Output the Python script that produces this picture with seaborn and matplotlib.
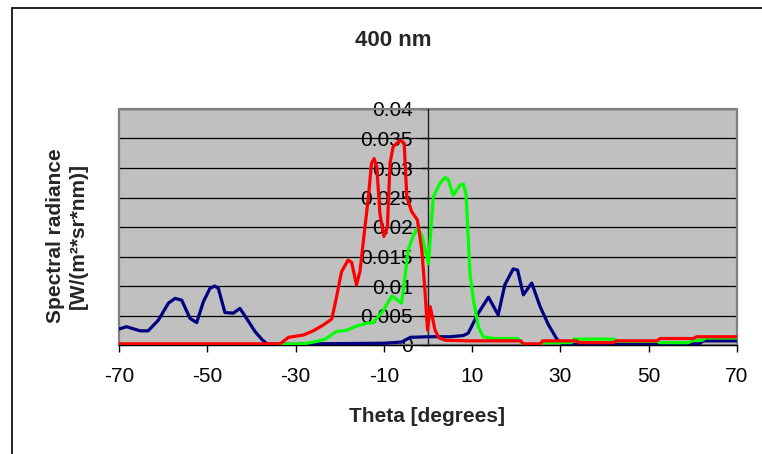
import numpy as np
import pandas as pd
import matplotlib
matplotlib.use("Agg")
import matplotlib.pyplot as plt
from matplotlib.patches import Rectangle
from matplotlib.lines import Line2D
import seaborn as sns

# ---------------- data ----------------
blue_x = [-70, -68.3, -65.2, -63.4, -61.1, -58.8, -57.3, -55.8, -53.9, -52.4, -50.9,
          -49.4, -48.3, -47.5, -46, -44.1, -42.6, -41.1, -39.2, -37.7, -36.5, -30,
          -26, -10, -6, -4, 0, 5, 8, 9.1, 11.4, 13.7, 15.9, 17.4, 19.3, 20.3, 21.6,
          23.5, 25.4, 27.3, 29.2, 30.5, 35, 42.7, 61.5, 62.3, 70]
blue_y = [0.0027, 0.0031, 0.0024, 0.0024, 0.0042, 0.0071, 0.0079, 0.0076, 0.0045,
          0.0038, 0.0073, 0.0096, 0.0100, 0.0096, 0.0055, 0.0054, 0.0062, 0.0045,
          0.0023, 0.0010, 0.0002, 0.0001, 0.0002, 0.0003, 0.0005, 0.0013, 0.0014,
          0.0014, 0.0016, 0.0020, 0.0054, 0.0081, 0.0051, 0.0102, 0.0129, 0.0127,
          0.0085, 0.0105, 0.0065, 0.0034, 0.0010, 0.0001, 0.0001, 0.0002, 0.0002,
          0.0007, 0.0007]

green_x = [-70, -33.5, -28.2, -25.2, -23.3, -20.7, -18.4, -16.2, -13.9, -12.4, -11.3,
           -10.1, -8.2, -7.1, -6.0, -5.2, -4.5, -3.3, -2.4, -1.4, 0.1, 1.2, 2.7, 3.9,
           4.6, 5.7, 7.3, 8.0, 8.6, 9.1, 9.5, 10.3, 11.4, 12.5, 14.8, 20.3, 21.5,
           25, 26, 32.5, 33, 42, 43, 52, 52.5, 59, 60, 62, 63, 70]
green_y = [0.0001, 0.0001, 0.0002, 0.0006, 0.0010, 0.0023, 0.0025, 0.0032, 0.0037,
           0.0038, 0.0048, 0.0059, 0.0083, 0.0077, 0.0071, 0.0116, 0.0161, 0.0186,
           0.0198, 0.0186, 0.0138, 0.0251, 0.0274, 0.0284, 0.0280, 0.0254, 0.0271,
           0.0273, 0.0257, 0.0184, 0.0122, 0.0076, 0.0031, 0.0014, 0.0011, 0.0011,
           0.0001, 0.0001, 0.0004, 0.0004, 0.0010, 0.0010, 0.0006, 0.0006, 0.0004,
           0.0004, 0.0008, 0.0008, 0.0012, 0.0012]

red_x = [-70, -33.5, -31.6, -28.2, -26, -23.7, -21.8, -20.7, -19.6, -18.1, -17.3,
         -16.2, -15.4, -14.7, -13.5, -12.8, -12.2, -11.6, -10.9, -10.0, -9.2, -8.6,
         -7.9, -6.3, -5.4, -4.8, -3.7, -2.4, -1.4, -0.7, -0.1, 0.5, 1.6, 2.5, 4.0,
         9.5, 21, 21.6, 25.4, 26, 33.7, 34.2, 42, 42.7, 51.8, 52.6, 60.1, 60.9, 70]
red_y = [0.0002, 0.0002, 0.0013, 0.0017, 0.0024, 0.0034, 0.0044, 0.0082, 0.0124,
         0.0144, 0.0140, 0.0102, 0.0125, 0.0172, 0.0251, 0.0308, 0.0316, 0.0302,
         0.0223, 0.0184, 0.0200, 0.0308, 0.0336, 0.0347, 0.0342, 0.0251, 0.0226,
         0.0212, 0.0161, 0.0093, 0.0025, 0.0065, 0.0025, 0.0012, 0.0008, 0.0007,
         0.0007, 0.0002, 0.0002, 0.0007, 0.0007, 0.0004, 0.0004, 0.0007, 0.0007,
         0.0011, 0.0011, 0.0014, 0.0014]

series_names = ["blue", "green", "red"]
series_colors = {"blue": "#000080", "green": "#00FF00", "red": "#FF0000"}

x_ticks = [-70, -50, -30, -10, 10, 30, 50, 70]
y_ticks = [0, 0.005, 0.01, 0.015, 0.02, 0.025, 0.03, 0.035, 0.04]
y_tick_labels = ["0", "0.005", "0.01", "0.015", "0.02", "0.025", "0.03", "0.035", "0.04"]

title = "400 nm"
x_label = "Theta [degrees]"
y_label = "Spectral radiance\n[W/(m\u00b2*sr*nm)]"

# ---------------- plot ----------------
sns.set_style("white")
plt.rcParams["font.family"] = ["Liberation Sans", "DejaVu Sans"]

df = pd.concat([
    pd.DataFrame({"theta": blue_x, "val": blue_y, "series": "blue"}),
    pd.DataFrame({"theta": green_x, "val": green_y, "series": "green"}),
    pd.DataFrame({"theta": red_x, "val": red_y, "series": "red"}),
], ignore_index=True)

fig = plt.figure(figsize=(7.62, 4.54), dpi=100)
ax = fig.add_axes([119 / 762, 109 / 454, 618 / 762, 236 / 454])
ax.set_facecolor("#C0C0C0")

sns.lineplot(data=df, x="theta", y="val", hue="series", hue_order=series_names,
             palette=series_colors, sort=False, estimator=None, legend=False,
             linewidth=2.3, ax=ax, zorder=3)
for ln in ax.lines:
    ln.set_solid_joinstyle("round")
    ln.set_solid_capstyle("round")

ax.set_xlim(-70, 70)
ax.set_ylim(0, 0.04)
ax.set_xticks(x_ticks)
ax.set_xticklabels([str(t) for t in x_ticks])
ax.set_yticks(y_ticks)
ax.set_yticklabels(y_tick_labels)
ax.set_xlabel("")
ax.set_ylabel("")

ax.yaxis.grid(True, color="black", linewidth=0.9)
ax.xaxis.grid(False)
ax.set_axisbelow(True)

# frame
for s in ["top", "right"]:
    ax.spines[s].set_visible(False)
ax.spines["bottom"].set_color("black")
ax.spines["bottom"].set_linewidth(1.0)
ax.spines["left"].set_position(("data", 0))
ax.spines["left"].set_color("#202020")
ax.spines["left"].set_linewidth(1.0)
ax.add_patch(Rectangle((0, 0), 1, 1, transform=ax.transAxes, fill=False,
                       edgecolor="#808080", linewidth=1.6, clip_on=False, zorder=1))

ax.tick_params(axis="y", direction="out", length=5, width=1, pad=6,
               labelsize=15, colors="black", left=True)
ax.tick_params(axis="x", direction="out", length=5, width=1, pad=11,
               labelsize=15, colors="black", bottom=True)

fig.text(393 / 762, 1 - 40 / 454, title, ha="center", va="center",
         fontsize=16, fontweight="bold")
fig.text(427 / 762, 1 - 417 / 454, x_label, ha="center", va="center",
         fontsize=15, fontweight="bold")
fig.text(67 / 762, 1 - 236 / 454, y_label, ha="center", va="center",
         rotation=90, fontsize=15, fontweight="bold", multialignment="center",
         linespacing=1.25)

# chart area border (left and top visible)
fig.add_artist(Line2D([12 / 762, 12 / 762], [0, 1 - 8 / 454],
                      transform=fig.transFigure, color="black", linewidth=1.2))
fig.add_artist(Line2D([12 / 762, 1], [1 - 8 / 454, 1 - 8 / 454],
                      transform=fig.transFigure, color="black", linewidth=1.2))

fig.savefig("out.png", dpi=100)
